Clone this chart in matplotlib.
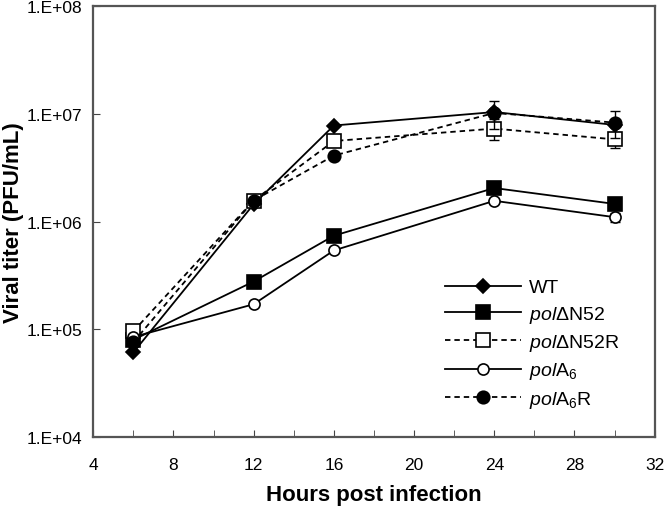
import math

import matplotlib
matplotlib.use("Agg")
import matplotlib.pyplot as plt
from matplotlib.ticker import FixedLocator, FuncFormatter, MultipleLocator

plt.rcParams["font.family"] = ["Liberation Sans", "DejaVu Sans"]
plt.rcParams["mathtext.fontset"] = "custom"
plt.rcParams["mathtext.rm"] = "Liberation Sans"
plt.rcParams["mathtext.it"] = "Liberation Sans:italic"

HOURS = [6, 12, 16, 24, 30]

WT = [6.1e4, 1.45e6, 7.8e6, 1.04e7, 7.9e6]
DN52 = [8.0e4, 2.78e5, 7.4e5, 2.05e6, 1.46e6]
DN52R = [9.6e4, 1.57e6, 5.6e6, 7.3e6, 5.8e6]
A6 = [8.5e4, 1.71e5, 5.4e5, 1.56e6, 1.1e6]
A6R = [7.6e4, 1.57e6, 4.1e6, 1.02e7, 8.3e6]

DN52R_ERR = [0.0, 0.0, 0.6e6, 1.6e6, 1.0e6]
A6R_ERR = [0.0, 0.0, 0.3e6, 3.0e6, 2.3e6]
A6_ERR = [0.0, 0.0, 0.0, 0.0, 0.1e6]

LABELS = [
    r"WT",
    r"$\mathit{pol}\mathrm{ΔN52}$",
    r"$\mathit{pol}\mathrm{ΔN52R}$",
    r"$\mathit{pol}\mathrm{A_6}$",
    r"$\mathit{pol}\mathrm{A_6R}$",
]

dash = (0, (3, 2.2))

fig = plt.figure(figsize=(6.66, 5.1), dpi=100)
ax = fig.add_axes([0.14, 0.141, 0.843, 0.845])

series = [
    (WT, None, "-", "D", 7, "black"),
    (DN52, None, "-", "s", 9.5, "black"),
    (DN52R, DN52R_ERR, dash, "s", 9.5, "white"),
    (A6, A6_ERR, "-", "o", 8, "white"),
    (A6R, A6R_ERR, dash, "o", 9, "black"),
]

for (vals, err, ls, mk, ms, fc), label in zip(series, LABELS):
    if err is not None:
        ax.errorbar(HOURS, vals, yerr=err, fmt="none", ecolor="black",
                    elinewidth=1.0, capsize=3.5, capthick=1.0)
    ax.plot(HOURS, vals, color="black", linestyle=ls, linewidth=1.3, marker=mk,
            markersize=ms, markerfacecolor=fc, markeredgecolor="black",
            markeredgewidth=1.2, label=label)

ax.set_yscale("log")
ax.set_ylim(1e4, 1e8)
ax.set_xlim(4, 32)

ax.yaxis.set_major_locator(FixedLocator([1e4, 1e5, 1e6, 1e7, 1e8]))
ax.yaxis.set_minor_locator(FixedLocator([]))
ax.yaxis.set_major_formatter(FuncFormatter(lambda v, p: "1.E+%02d" % round(math.log10(v))))
ax.xaxis.set_major_locator(MultipleLocator(4))
ax.xaxis.set_minor_locator(MultipleLocator(2))

ax.tick_params(axis="both", which="both", direction="in", colors="#444444",
               labelcolor="black", labelsize=12.5)
ax.tick_params(axis="x", which="major", length=5, pad=14)
ax.tick_params(axis="x", which="minor", length=5)
ax.tick_params(axis="y", which="major", length=5, pad=8)

for s in ax.spines.values():
    s.set_color("#555555")
    s.set_linewidth(1.6)

ax.set_xlabel("Hours post infection", fontsize=16, fontweight="bold", labelpad=9)
ax.set_ylabel("Viral titer (PFU/mL)", fontsize=16, fontweight="bold", labelpad=2)

ax.legend(loc="lower right", bbox_to_anchor=(0.985, 0.0), frameon=False, fontsize=14,
          handlelength=3.9, handletextpad=0.4, labelspacing=0.38, borderaxespad=1.0)

fig.savefig("out.png", dpi=100)
